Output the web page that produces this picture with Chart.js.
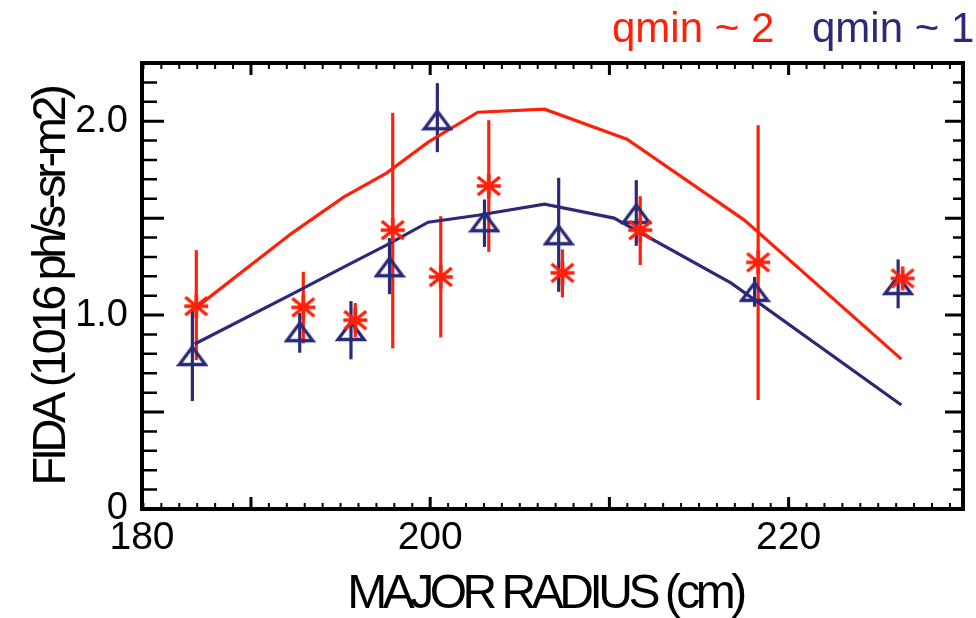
<!DOCTYPE html>
<html lang="en">
<head>
<meta charset="UTF-8">
<title>FIDA vs major radius</title>
<script src="https://cdn.jsdelivr.net/npm/chart.js"></script>
<style>
  html, body { margin: 0; padding: 0; background: #fff; }
  canvas { display: block; }
</style>
</head>
<body>
<canvas id="fidaChart" width="976" height="618"></canvas>
<script>
// measured FIDA, qmin ~ 2 (red asterisks) with error bar ends
var redR  = [186.95, 192.92, 195.82, 197.91, 200.59, 203.27, 207.38, 211.72, 218.30, 226.36];
var redF  = [1.046, 1.040, 0.974, 1.438, 1.197, 1.666, 1.218, 1.438, 1.272, 1.189];
var redLo = [0.768, 0.854, 0.887, 0.828, 0.885, 1.326, 1.091, 1.258, 0.562, 1.139];
var redHi = [1.335, 1.223, 1.062, 2.043, 1.510, 2.005, 1.339, 1.613, 1.979, 1.232];

// measured FIDA, qmin ~ 1 (navy triangles)
var blueR  = [186.73, 192.72, 195.58, 197.73, 200.40, 203.03, 207.17, 211.50, 218.10, 226.11];
var blueF  = [0.789, 0.912, 0.918, 1.247, 2.005, 1.479, 1.412, 1.521, 1.120, 1.155];
var blueLo = [0.557, 0.806, 0.772, 1.108, 1.840, 1.352, 1.120, 1.357, 1.043, 1.035];
var blueHi = [1.026, 1.012, 1.072, 1.397, 2.196, 1.596, 1.708, 1.696, 1.197, 1.287];

// simulated profiles
var redModelR  = [186.97, 192.29, 195.17, 197.56, 199.89, 202.66, 206.38, 210.98, 217.53, 226.29];
var redModelF  = [1.041, 1.423, 1.608, 1.732, 1.892, 2.046, 2.062, 1.907, 1.490, 0.773];
var blueModelR = [186.86, 192.29, 195.17, 197.56, 199.89, 202.66, 206.38, 210.26, 216.80, 226.29];
var blueModelF = [0.851, 1.108, 1.247, 1.361, 1.479, 1.515, 1.572, 1.500, 1.165, 0.536];

// axes
var xMin = 183.92, xMax = 229.73;
var yMin = 0, yMax = 2.3;
var xTickValues = [183.92, 200, 220];
var xTickLabels = ['180', '200', '220'];
var yTickValues = [0, 1, 2];
var yTickLabels = ['0', '1.0', '2.0'];

var RED = '#ff200a';
var NAVY = '#2a2a78';
var FONT = "'Liberation Sans', Arial, Helvetica, sans-serif";

function toPoints(xs, ys) {
  return xs.map(function (x, i) { return { x: x, y: ys[i] }; });
}

// marker glyphs
function makeAsterisk() {
  var c = document.createElement('canvas');
  c.width = 28; c.height = 28;
  var g = c.getContext('2d');
  g.strokeStyle = RED; g.lineWidth = 3.5; g.lineCap = 'butt';
  g.beginPath();
  g.moveTo(2, 14); g.lineTo(26, 14);
  g.moveTo(14, 2); g.lineTo(14, 26);
  g.moveTo(3, 5); g.lineTo(25, 23);
  g.moveTo(3, 23); g.lineTo(25, 5);
  g.stroke();
  return c;
}
function makeTriangle() {
  var c = document.createElement('canvas');
  c.width = 32; c.height = 24;
  var g = c.getContext('2d');
  g.strokeStyle = NAVY; g.lineWidth = 3.3; g.lineJoin = 'miter';
  g.beginPath();
  g.moveTo(3, 20.5); g.lineTo(16, 3); g.lineTo(29, 20.5); g.closePath();
  g.stroke();
  return c;
}

// vertical error bars
var errorBars = {
  id: 'errorBars',
  beforeDatasetsDraw: function (chart) {
    var ctx = chart.ctx, xs = chart.scales.x, ys = chart.scales.y;
    chart.data.datasets.forEach(function (ds) {
      if (!ds.errLo) return;
      ctx.save();
      ctx.strokeStyle = ds.errColor;
      ctx.lineWidth = 3.2;
      ds.data.forEach(function (p, i) {
        var px = xs.getPixelForValue(p.x);
        ctx.beginPath();
        ctx.moveTo(px, ys.getPixelForValue(ds.errLo[i]));
        ctx.lineTo(px, ys.getPixelForValue(ds.errHi[i]));
        ctx.stroke();
      });
      ctx.restore();
    });
  }
};

// box frame with inward ticks on all four sides, axis titles and labels
var frame = {
  id: 'frame',
  afterDraw: function (chart) {
    var ctx = chart.ctx, a = chart.chartArea;
    var xs = chart.scales.x, ys = chart.scales.y;
    ctx.save();
    ctx.strokeStyle = '#000';

    // y ticks every 0.1, long ones every 0.5
    for (var i = 0; i <= 23; i++) {
      var v = i / 10;
      if (v > yMax) break;
      var py = ys.getPixelForValue(v);
      var major = i % 5 === 0;
      ctx.lineWidth = major ? 3 : 2.5;
      ctx.beginPath();
      ctx.moveTo(a.left, py); ctx.lineTo(a.left + (major ? 22 : 15), py);
      ctx.moveTo(a.right, py); ctx.lineTo(a.right - (major ? 18 : 10), py);
      ctx.stroke();
    }
    // x ticks every 1 cm, long ones every 10 cm
    for (var r = Math.ceil(xMin); r <= xMax; r++) {
      var px = xs.getPixelForValue(r);
      var big = r % 10 === 0;
      ctx.lineWidth = big ? 3 : 2;
      ctx.beginPath();
      ctx.moveTo(px, a.bottom); ctx.lineTo(px, a.bottom - (big ? 12 : 6));
      ctx.moveTo(px, a.top); ctx.lineTo(px, a.top + (big ? 12 : 6));
      ctx.stroke();
    }
    ctx.lineWidth = 4;
    ctx.strokeRect(a.left, a.top, a.right - a.left, a.bottom - a.top);

    // axis titles
    ctx.fillStyle = '#000';
    ctx.font = '48px ' + FONT;
    ctx.textBaseline = 'alphabetic';
    ctx.textAlign = 'center';
    ctx.letterSpacing = '-4.5px';
    ctx.fillText('MAJOR RADIUS (cm)', 545, 608);

    ctx.save();
    ctx.translate(65, 287);
    ctx.rotate(-Math.PI / 2);
    ctx.font = '47px ' + FONT;
    ctx.letterSpacing = '-4.4px';
    ctx.fillText('FIDA (1016 ph/s-sr-m2)', 0, 0);
    ctx.restore();

    // series labels above the frame
    ctx.letterSpacing = '0px';
    ctx.font = '42px ' + FONT;
    ctx.textAlign = 'left';
    ctx.fillStyle = RED;
    ctx.fillText('qmin ~ 2', 612, 42);
    ctx.fillStyle = NAVY;
    ctx.fillText('qmin ~ 1', 812, 42);
    ctx.restore();
  }
};

var config = {
  type: 'scatter',
  data: {
    datasets: [
      {
        label: 'qmin ~ 2',
        data: toPoints(redR, redF),
        errLo: redLo, errHi: redHi, errColor: RED,
        pointStyle: makeAsterisk(),
        pointRadius: 12,
        showLine: false,
        order: 1
      },
      {
        label: 'qmin ~ 1',
        data: toPoints(blueR, blueF),
        errLo: blueLo, errHi: blueHi, errColor: NAVY,
        pointStyle: makeTriangle(),
        pointRadius: 12,
        showLine: false,
        order: 2
      },
      {
        label: 'model qmin ~ 2',
        data: toPoints(redModelR, redModelF),
        showLine: true,
        borderColor: RED,
        borderWidth: 3.2,
        pointRadius: 0,
        fill: false,
        order: 3
      },
      {
        label: 'model qmin ~ 1',
        data: toPoints(blueModelR, blueModelF),
        showLine: true,
        borderColor: NAVY,
        borderWidth: 3.2,
        pointRadius: 0,
        fill: false,
        order: 4
      }
    ]
  },
  options: {
    responsive: false,
    animation: false,
    devicePixelRatio: 1,
    layout: { padding: { top: 63, right: 8, left: 0, bottom: 0 } },
    plugins: {
      legend: { display: false },
      tooltip: { enabled: false }
    },
    scales: {
      x: {
        type: 'linear',
        min: xMin,
        max: xMax,
        grid: { display: false, drawTicks: false },
        border: { display: false },
        afterBuildTicks: function (scale) {
          scale.ticks = xTickValues.map(function (v) { return { value: v }; });
        },
        afterFit: function (scale) { scale.height = 109; },
        ticks: {
          autoSkip: false,
          maxRotation: 0,
          padding: 6,
          color: '#000',
          font: { family: FONT, size: 39 },
          callback: function (value, index) { return xTickLabels[index]; }
        }
      },
      y: {
        type: 'linear',
        min: yMin,
        max: yMax,
        grid: { display: false, drawTicks: false },
        border: { display: false },
        afterBuildTicks: function (scale) {
          scale.ticks = yTickValues.map(function (v) { return { value: v }; });
        },
        afterFit: function (scale) { scale.width = 142; },
        ticks: {
          autoSkip: false,
          padding: 14,
          color: '#000',
          font: { family: FONT, size: 38 },
          callback: function (value, index) { return yTickLabels[index]; }
        }
      }
    }
  },
  plugins: [errorBars, frame]
};

var fidaChart = new Chart(document.getElementById('fidaChart'), config);
</script>
</body>
</html>
